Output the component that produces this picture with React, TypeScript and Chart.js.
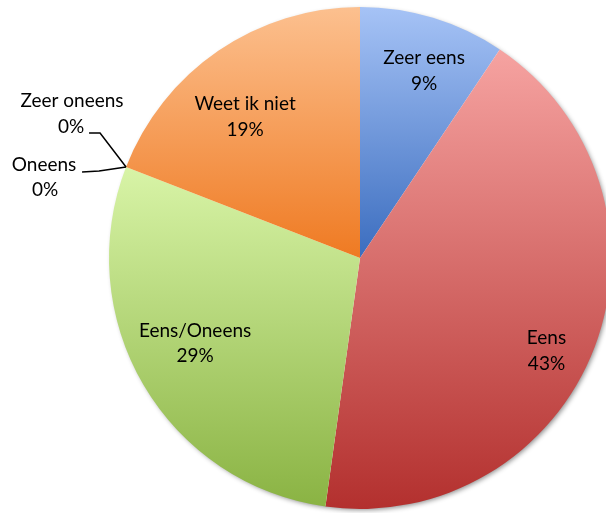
import React, { useEffect, useRef } from "react";
import { Chart, registerables } from "chart.js";

Chart.register(...registerables);

const categories = ["Zeer eens", "Eens", "Eens/Oneens", "Oneens", "Zeer oneens", "Weet ik niet"];
const values = [9.4, 42.8, 28.7, 0, 0, 19.1];
const topColors = ["#a6c3f6", "#f6a3a1", "#d8f4a7", "#fcc08f", "#d8e4f6", "#fcc08f"];
const bottomColors = ["#3b6dbf", "#b3302e", "#8ab343", "#ef7a22", "#3b6dbf", "#ef7a22"];

const FONT = "Lato, 'Open Sans', sans-serif";

function arcYRange(a0: number, a1: number, cy: number, r: number) {
  const ys = [cy, cy + r * Math.sin(a0), cy + r * Math.sin(a1)];
  const norm = (a: number) => ((a % (2 * Math.PI)) + 2 * Math.PI) % (2 * Math.PI);
  const contains = (t: number) => {
    const s = norm(a0);
    const span = a1 - a0;
    const d = norm(t - s);
    return d <= span;
  };
  if (contains(Math.PI / 2)) ys.push(cy + r);
  if (contains(-Math.PI / 2)) ys.push(cy - r);
  return [Math.min(...ys), Math.max(...ys)];
}

export default function App() {
  const ref = useRef<HTMLCanvasElement | null>(null);

  useEffect(() => {
    document.body.style.margin = "0";
    const canvas = ref.current!;
    const total = values.reduce((a, b) => a + b, 0);

    const bg = (ctx: any) => {
      const chart = ctx.chart;
      const i = ctx.dataIndex;
      const area = chart.chartArea;
      if (!area || i === undefined) return topColors[i ?? 0];
      const cy = (area.top + area.bottom) / 2;
      const r = Math.min(area.right - area.left, area.bottom - area.top) / 2;
      let start = -Math.PI / 2;
      for (let k = 0; k < i; k++) start += (values[k] / total) * 2 * Math.PI;
      const end = start + (values[i] / total) * 2 * Math.PI;
      const [y0, y1] = arcYRange(start, end, cy, r);
      const g = chart.ctx.createLinearGradient(0, y0, 0, Math.max(y1, y0 + 1));
      g.addColorStop(0, topColors[i]);
      g.addColorStop(1, bottomColors[i]);
      return g;
    };

    const shadowPlugin = {
      id: "shadow",
      beforeDatasetsDraw(chart: any) {
        const meta = chart.getDatasetMeta(0);
        const el = meta.data[0];
        if (!el) return;
        const c = chart.ctx;
        c.save();
        c.shadowColor = "rgba(0,0,0,0.45)";
        c.shadowBlur = 5;
        c.shadowOffsetX = 2;
        c.shadowOffsetY = 2;
        c.beginPath();
        c.arc(el.x, el.y, el.outerRadius - 1, 0, Math.PI * 2);
        c.fillStyle = "#ffffff";
        c.fill();
        c.restore();
      },
    };

    // label anchor offsets in units of the pie radius (from pie centre)
    const insideOffset: Record<number, [number, number]> = {
      0: [0.255, -0.745],
      1: [0.743, 0.371],
      2: [-0.657, 0.341],
      5: [-0.458, -0.562],
    };

    const labelPlugin = {
      id: "labels",
      afterDatasetsDraw(chart: any) {
        const meta = chart.getDatasetMeta(0);
        const c = chart.ctx;
        c.save();
        c.fillStyle = "#000000";
        c.font = `19px ${FONT}`;
        c.textAlign = "center";
        c.textBaseline = "middle";
        const lh = 25.5;
        meta.data.forEach((el: any, i: number) => {
          const pct = Math.round(values[i]) + "%";
          const off = insideOffset[i];
          if (off) {
            const x = el.x + el.outerRadius * off[0];
            const y = el.y + el.outerRadius * off[1];
            c.fillText(categories[i], x, y - lh / 2);
            c.fillText(pct, x, y + lh / 2);
          }
        });
        // outside labels for zero slices
        const z = meta.data[3];
        const px = z.x + z.outerRadius * Math.cos(z.startAngle);
        const py = z.y + z.outerRadius * Math.sin(z.startAngle);
        c.fillText(categories[4], px - 54, py - 66);
        c.fillText(Math.round(values[4]) + "%", px - 55, py - 40);
        c.fillText(categories[3], px - 82, py - 2);
        c.fillText(Math.round(values[3]) + "%", px - 81, py + 23);
        c.strokeStyle = "#000000";
        c.lineWidth = 1.5;
        c.beginPath();
        c.moveTo(px - 37, py - 34);
        c.lineTo(px - 26, py - 34);
        c.lineTo(px, py);
        c.stroke();
        c.beginPath();
        c.moveTo(px - 44, py + 5);
        c.lineTo(px - 27, py + 4);
        c.lineTo(px, py);
        c.stroke();
        c.restore();
      },
    };

    const chart = new Chart(canvas, {
      type: "pie",
      data: {
        labels: categories,
        datasets: [
          {
            data: values,
            backgroundColor: bg,
            borderWidth: 0,
          },
        ],
      },
      options: {
        responsive: false,
        animation: false,
        layout: { padding: { left: 109, right: 9, top: 7, bottom: 4 } },
        plugins: {
          legend: { display: false },
          tooltip: { enabled: false },
        },
      },
      plugins: [shadowPlugin, labelPlugin],
    });
    return () => chart.destroy();
  }, []);

  return (
    <div style={{ width: 606, height: 513, overflow: "hidden", position: "relative", background: "#fff" }}>
      <canvas ref={ref} width={620} height={513} style={{ display: "block" }} />
    </div>
  );
}
